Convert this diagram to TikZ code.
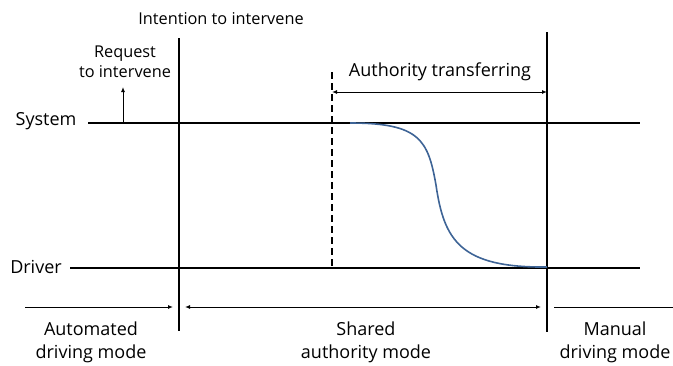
\documentclass[tikz,border=0pt]{standalone}
\usepackage{fontspec}
\setmainfont{Open Sans}
\usetikzlibrary{arrows.meta}
\definecolor{curveblue}{RGB}{62,100,150}

\tikzset{
  bigtxt/.style={font=\fontsize{18}{23}\selectfont, align=center, inner sep=0pt},
  smalltxt/.style={font=\fontsize{16.3}{20}\selectfont, align=center, inner sep=0pt},
  axisline/.style={line width=2.2pt},
  thinarrow/.style={line width=1pt, -{Latex[length=5pt,width=4pt]}},
  twoarrow/.style={line width=1pt, {Latex[length=5pt,width=4pt]}-{Latex[length=5pt,width=4pt]}}
}

\begin{document}
\begin{tikzpicture}[x=1pt,y=-1pt]
\useasboundingbox (0,0) rectangle (673,365);

% labels
\node[bigtxt] (sys) at (46,121) {System};
\node[bigtxt] (drv) at (36,267) {Driver};
\node[smalltxt] (intent) at (221,19) {Intention to intervene};
\node[smalltxt] (request) at (125,62) {Request\\to intervene};
\node[bigtxt] (auth) at (440,72) {Authority transferring};
\node[bigtxt] (auto) at (91,342) {Automated\\driving mode};
\node[bigtxt] (shared) at (366,342) {Shared\\authority mode};
\node[bigtxt] (manual) at (615,342) {Manual\\driving mode};

% end points
\coordinate (s0) at (88,123);
\coordinate (s1) at (640,123);
\coordinate (d0) at (70,268);
\coordinate (d1) at (640,268);
\coordinate (v1a) at (179,38);
\coordinate (v1b) at (179,331);
\coordinate (v2a) at (547,32);
\coordinate (v2b) at (547,332);
\coordinate (da) at (332,72);
\coordinate (db) at (332,268);
\coordinate (ta) at (332,92);
\coordinate (tb) at (547,92);
\coordinate (ra) at (123,123);
\coordinate (rb) at (123,87);
\coordinate (b0) at (25,307);
\coordinate (b1) at (173,307);
\coordinate (b2) at (185,307);
\coordinate (b3) at (541,307);
\coordinate (b4) at (554,307);
\coordinate (b5) at (700,307);

\draw[axisline] (s0) -- (s1);
\draw[axisline] (d0) -- (d1);
\draw[axisline] (v1a) -- (v1b);
\draw[axisline] (v2a) -- (v2b);
\draw[line width=2pt, dash pattern=on 7pt off 4pt] (da) -- (db);

\draw[twoarrow] (ta) to (tb);
\draw[thinarrow] (ra) to (rb);
\draw[thinarrow] (b0) to (b1);
\draw[twoarrow] (b2) to (b3);
\draw[thinarrow] (b4) to (b5);

% authority curve
\draw[curveblue, line width=1.6pt] (350,123) .. controls (420,123) and (428,140) .. (436,185)
  .. controls (444,240) and (460,268) .. (547,267);
\end{tikzpicture}
\end{document}
